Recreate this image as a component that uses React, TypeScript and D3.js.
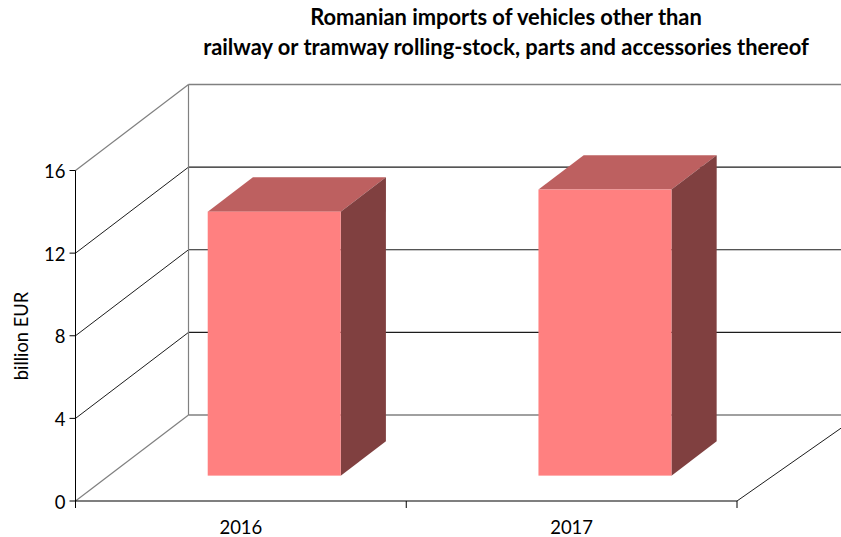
import React from "react";
import * as d3 from "d3";

const categories = ["2016", "2017"];
const values = [12.78, 13.85];
const yTicks = [0, 4, 8, 12, 16];
const titleLines = [
  "Romanian imports of vehicles other than",
  "railway or tramway rolling-stock, parts and accessories thereof",
];
const yLabel = "billion EUR";

const W = 841;
const H = 537;
const FONT = "Lato, 'Open Sans', sans-serif";
const depth = { dx: 113, dy: -86 };
const frontDepth = 0.295;
const barDepth = 0.4;

const y = d3.scaleLinear().domain([0, 16]).range([501, 170.5]);
const x = d3.scaleBand<string>().domain(categories).range([75.5, 737]).paddingInner(0).paddingOuter(0);
const barW = 133;
const poly = (p: [number, number][]) => d3.line()(p) + "Z";

export default function App() {
  const x0 = x.range()[0];
  const x1 = x.range()[1];
  const backX = x0 + depth.dx;
  const gridDark = "#1c1c1c";
  const gridGrey = "#808080";
  return (
    <svg width={W} height={H} viewBox={`0 0 ${W} ${H}`}
      style={{ position: "absolute", left: 0, top: 0, display: "block", fontFamily: FONT }}>
      <rect width={W} height={H} fill="#fff" />
      {titleLines.map((t, i) => (
        <text key={t} x={506} y={25 + i * 30} textAnchor="middle" fontSize={21.9} fontWeight={700} fill="#000">{t}</text>
      ))}

      {yTicks.map((t) => {
        const yy = y(t);
        const by = yy + depth.dy;
        const grey = t === 16 || t === 0;
        return (
          <g key={t}>
            <line x1={x0} y1={yy} x2={backX} y2={by} stroke={grey ? gridGrey : gridDark} strokeWidth={grey ? 1.2 : 1} />
            <line x1={backX} y1={by} x2={W} y2={by} stroke={grey ? gridGrey : gridDark} strokeWidth={grey ? 1.4 : 1.2} />
            <line x1={x0 - 6} y1={yy} x2={x0} y2={yy} stroke="#000" />
            <text x={x0 - 10} y={yy + 7.5} textAnchor="end" fontSize={18.5} fill="#000">{t}</text>
          </g>
        );
      })}
      <line x1={backX} y1={y(16) + depth.dy} x2={backX} y2={y(0) + depth.dy} stroke={gridGrey} strokeWidth={1.2} />
      <line x1={x1} y1={y(0)} x2={x1 + depth.dx} y2={y(0) + depth.dy * 0.92} stroke={gridDark} />
      <line x1={x0} y1={y(16)} x2={x0} y2={y(0) + 7} stroke="#000" />
      <line x1={x0} y1={y(0)} x2={x1} y2={y(0)} stroke="#000" strokeWidth={1.2} />
      {[x0, x0 + x.step(), x1].map((tx) => (
        <line key={tx} x1={tx} y1={y(0)} x2={tx} y2={y(0) + 7} stroke="#000" />
      ))}

      {categories.map((c, i) => {
        const cx = x(c)! + x.bandwidth() / 2;
        const left = cx - barW / 2 + depth.dx * frontDepth;
        const right = left + barW;
        const base = y(0) + depth.dy * frontDepth;
        const top = base - (y(0) - y(values[i]));
        const ox = depth.dx * barDepth;
        const oy = depth.dy * barDepth;
        return (
          <g key={c}>
            <path d={poly([[left, top], [right, top], [right + ox, top + oy], [left + ox, top + oy]])} fill="#bd6060" />
            <path d={poly([[right, top], [right + ox, top + oy], [right + ox, base + oy], [right, base]])} fill="#804040" />
            <rect x={left} y={top} width={barW} height={base - top} fill="#ff8080" />
            <text x={cx} y={533.5} textAnchor="middle" fontSize={18.5} fill="#000">{c}</text>
          </g>
        );
      })}

      <text transform="translate(28,336) rotate(-90)" textAnchor="middle" fontSize={18.3} fill="#000">{yLabel}</text>
    </svg>
  );
}
